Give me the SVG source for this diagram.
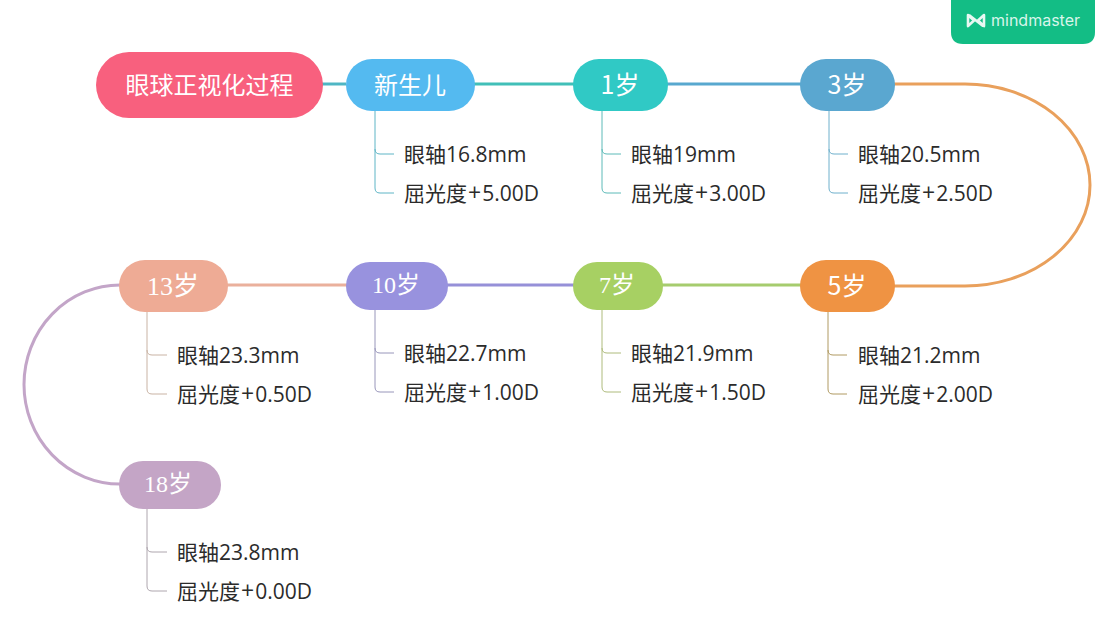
<svg xmlns="http://www.w3.org/2000/svg" width="1112" height="628" viewBox="0 0 1112 628">
<style>
.n{font-family:"Noto Sans CJK SC","Liberation Sans",sans-serif;fill:#fff;text-anchor:middle;font-size:24px}
.s{font-family:"Liberation Serif","Noto Sans CJK SC",serif;fill:#fff;text-anchor:middle;font-size:24px}
.t{font-family:"Open Sans","Noto Sans CJK SC",sans-serif;fill:#2b2b2b;font-size:21px}
.p{font-size:23px}
.m{fill:none;stroke-width:3}
.b{fill:none;stroke-width:1}
</style>
<rect width="1112" height="628" fill="#fff"/>
<g id="connectors">
<path class="m" d="M322 84H346" stroke="#4fb6c4"/>
<path class="m" d="M474 84H574" stroke="#41bfb8"/>
<path class="m" d="M667 84H801" stroke="#58a8cf"/>
<path class="m" d="M894 84H965A125 101 0 0 1 965 286H894" stroke="#e9a05c"/>
<path class="m" d="M801 285H662" stroke="#a6cc6e"/>
<path class="m" d="M574 285H447" stroke="#9690d8"/>
<path class="m" d="M347 285H227" stroke="#eab09c"/>
<path class="m" d="M120 285A96 99.500 0 0 0 120 484" stroke="#c3a5c8"/>
<g class="b">
<path d="M375 110V149Q375 154 380 154H394M375 149V188Q375 193 380 193H394" fill="none" stroke="#5fb5c6"/>
<path d="M602 110V149Q602 154 607 154H621M602 149V188Q602 193 607 193H621" fill="none" stroke="#5cbab8"/>
<path d="M829 110V149Q829 154 834 154H848M829 149V188Q829 193 834 193H848" fill="none" stroke="#6fb0cc"/>
<path d="M828 312V350Q828 355 833 355H847M828 350V389Q828 394 833 394H847" fill="none" stroke="#b09a62"/>
<path d="M602 310V348Q602 353 607 353H621M602 348V387Q602 392 607 392H621" fill="none" stroke="#aebb7c"/>
<path d="M375 310V348Q375 353 380 353H394M375 348V387Q375 392 380 392H394" fill="none" stroke="#9896ba"/>
<path d="M147 312V350Q147 355 152 355H167M147 350V389Q147 394 152 394H167" fill="none" stroke="#c9b3a4"/>
<path d="M147 509V547Q147 552 152 552H167M147 547V586Q147 591 152 591H167" fill="none" stroke="#aea6ae"/>
</g>
</g>
<g id="logo"><path d="M951 0H1095V32Q1095 44 1083 44H963Q951 44 951 32Z" fill="#13bd85"/>
<path d="M968 15L974 20.500L968 26ZM984 15L978 20.500L984 26ZM969 15L983 26" fill="none" stroke="#e8f8f2" stroke-width="2.600" stroke-linejoin="round"/>
<text x="991" y="26" font-family="Inter,'Liberation Sans',sans-serif" font-size="16" fill="#d8f5ea">mindmaster</text></g>
<g id="root"><rect x="96" y="52" width="227" height="66" rx="33" fill="#f8607e"/><text class="n" x="209.500" y="94">眼球正视化过程</text></g>
<g id="n0"><rect x="346" y="59" width="129" height="52" rx="26" fill="#54baf0"/><text class="n" x="410" y="94">新生儿</text>
<text class="t" x="404" y="162">眼轴16.8mm</text><text class="t" x="404" y="201">屈光度<tspan class="p" dx="1">+</tspan><tspan dx="1">5.00D</tspan></text></g>
<g id="n1"><rect x="573" y="59" width="95" height="52" rx="26" fill="#30c9c5"/><text class="n" x="620" y="94" style="font-size:25px">1岁</text>
<text class="t" x="631" y="162">眼轴19mm</text><text class="t" x="631" y="201">屈光度<tspan class="p" dx="1">+</tspan><tspan dx="1">3.00D</tspan></text></g>
<g id="n3"><rect x="800" y="59" width="95" height="52" rx="26" fill="#5aa7d0"/><text class="n" x="847" y="94" style="font-size:25px">3岁</text>
<text class="t" x="858" y="162">眼轴20.5mm</text><text class="t" x="858" y="201">屈光度<tspan class="p" dx="1">+</tspan><tspan dx="1">2.50D</tspan></text></g>
<g id="n5"><rect x="800" y="260" width="95" height="52" rx="26" fill="#ef9343"/><text class="n" x="847" y="295" style="font-size:25px">5岁</text>
<text class="t" x="858" y="363">眼轴21.2mm</text><text class="t" x="858" y="402">屈光度<tspan class="p" dx="1">+</tspan><tspan dx="1">2.00D</tspan></text></g>
<g id="n7"><rect x="573" y="262" width="90" height="48" rx="24" fill="#a7d063"/><text class="s" x="617" y="293">7岁</text>
<text class="t" x="631" y="361">眼轴21.9mm</text><text class="t" x="631" y="400">屈光度<tspan class="p" dx="1">+</tspan><tspan dx="1">1.50D</tspan></text></g>
<g id="n10"><rect x="346" y="262" width="102" height="48" rx="24" fill="#9892de"/><text class="s" x="396" y="293">10岁</text>
<text class="t" x="404" y="361">眼轴22.7mm</text><text class="t" x="404" y="400">屈光度<tspan class="p" dx="1">+</tspan><tspan dx="1">1.00D</tspan></text></g>
<g id="n13"><rect x="119" y="260" width="109" height="52" rx="26" fill="#eeab95"/><text class="s" x="173" y="295" style="font-size:26px">13岁</text>
<text class="t" x="177" y="363">眼轴23.3mm</text><text class="t" x="177" y="402">屈光度<tspan class="p" dx="1">+</tspan><tspan dx="1">0.50D</tspan></text></g>
<g id="n18"><rect x="119" y="461" width="102" height="48" rx="24" fill="#c4a5c6"/><text class="s" x="168" y="492">18岁</text>
<text class="t" x="177" y="560">眼轴23.8mm</text><text class="t" x="177" y="599">屈光度<tspan class="p" dx="1">+</tspan><tspan dx="1">0.00D</tspan></text></g>
</svg>
